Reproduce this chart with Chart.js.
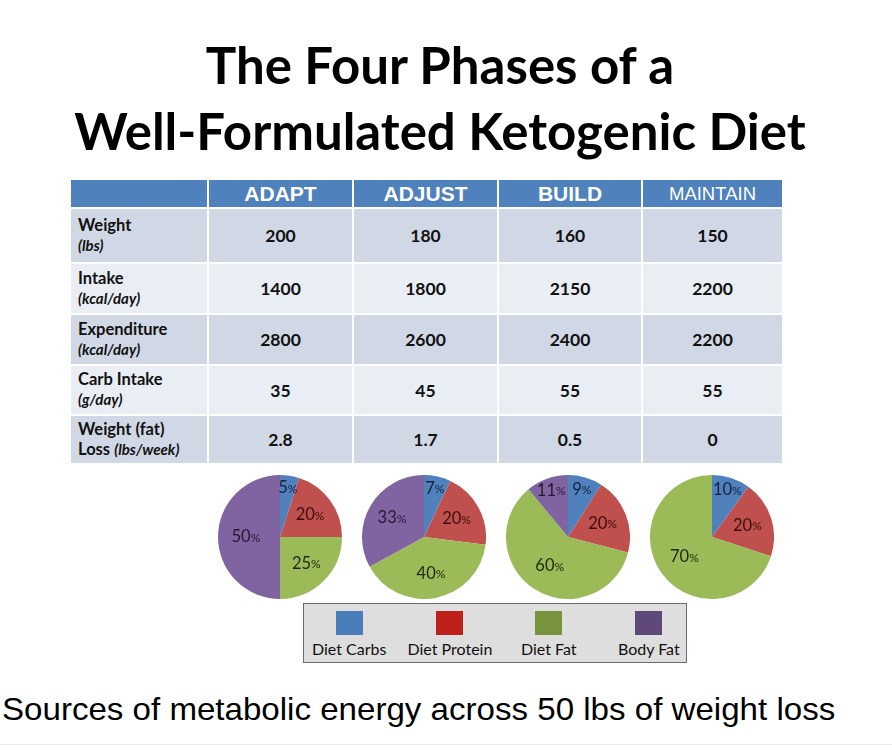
<!DOCTYPE html>
<html>
<head>
<meta charset="utf-8">
<script src="https://cdn.jsdelivr.net/npm/chart.js@4.4.0/dist/chart.umd.min.js"></script>
<style>
  html, body { margin: 0; padding: 0; background: #ffffff; }
  body { width: 892px; height: 750px; position: relative; overflow: hidden; font-family: Lato, "Open Sans", sans-serif; }
  .title { position: absolute; left: 0; width: 880px; text-align: center; font-family: Lato, sans-serif; font-weight: 700; font-size: 51px; color: #000; white-space: nowrap; line-height: 1; }
  #t1 { top: 39px; }
  #t2 { top: 105px; }
  table { position: absolute; left: 69px; top: 178px; border-collapse: collapse; table-layout: fixed; }
  td, th { border: 2px solid #ffffff; padding: 0; }
  th { background: #4F81BD; color: #fff; height: 27px; font-family: "Liberation Sans", Arial, sans-serif; font-weight: 700; font-size: 21px; }
  th.small { font-weight: 400; font-size: 18.5px; }
  td { font-family: Lato, sans-serif; color: #111; }
  td.lab { text-align: left; padding-left: 7px; font-size: 16.5px; font-weight: 700; line-height: 1.2; }
  td.lab i { font-weight: 700; font-size: 15px; }
  td.val { text-align: center; font-size: 17.5px; font-weight: 700; }
  tr.dark td { background: #D1D8E5; }
  tr.light td { background: #E9EDF4; }
  .pie { position: absolute; width: 124px; height: 124px; }
  #legend { position: absolute; left: 303px; top: 603px; width: 384px; height: 60px; background: #DEDEDE; border: 1px solid #6b6b6b; box-sizing: border-box; }
  .li { position: absolute; top: 0; text-align: center; font-family: Lato, sans-serif; font-size: 16px; color: #111; white-space: nowrap; }
  .li span.sw { display: block; width: 27px; height: 24px; margin: 7px auto 4px auto; }
  #caption { position: absolute; left: 2px; top: 694px; font-family: "Liberation Sans", Arial, sans-serif; font-size: 30.5px; color: #000; white-space: nowrap; line-height: 1; transform: scaleX(1.085); transform-origin: left center; }
  #bottomline { position: absolute; left: 0; top: 744px; width: 892px; height: 1px; background: #eeeeee; }
</style>
</head>
<body>
<div class="title" id="t1">The Four Phases of a</div>
<div class="title" id="t2">Well-Formulated Ketogenic Diet</div>
<table id="tbl"></table>
<canvas class="pie" id="p0"></canvas>
<canvas class="pie" id="p1"></canvas>
<canvas class="pie" id="p2"></canvas>
<canvas class="pie" id="p3"></canvas>
<div id="legend"></div>
<div id="caption">Sources of metabolic energy across 50 lbs of weight loss</div>
<div id="bottomline"></div>
<script>
// ---- Data ----
const phases = ["ADAPT", "ADJUST", "BUILD", "MAINTAIN"];
const rowNames = ["Weight", "Intake", "Expenditure", "Carb Intake", "Weight (fat) Loss"];
const rowUnits = ["(lbs)", "(kcal/day)", "(kcal/day)", "(g/day)", "(lbs/week)"];
const weight = ["200", "180", "160", "150"];
const intake = ["1400", "1800", "2150", "2200"];
const expenditure = ["2800", "2600", "2400", "2200"];
const carbIntake = ["35", "45", "55", "55"];
const fatLoss = ["2.8", "1.7", "0.5", "0"];
const energySources = ["Diet Carbs", "Diet Protein", "Diet Fat", "Body Fat"];
const adaptPie = [5, 20, 25, 50];
const adjustPie = [7, 20, 40, 33];
const buildPie = [9, 20, 60, 11];
const maintainPie = [10, 20, 70, 0];

// ---- Styles ----
const sliceColors = ["#4F81BD", "#C0504D", "#9BBB59", "#8064A2"];
const labelColors = ["#14223d", "#3b0e0d", "#1c2a0c", "#231832"];
const legendColors = ["#4A7EBB", "#C0201A", "#77933C", "#5F497A"];

// ---- Table ----
const rows = [weight, intake, expenditure, carbIntake, fatLoss];
const colW = [138, 145, 145, 144, 141];
const rowH = [55, 51, 51, 50, 49];
const tbl = document.getElementById('tbl');
let html = '<colgroup>' + colW.map(w => `<col style="width:${w}px">`).join('') + '</colgroup>';
html += '<tr><th></th>' + phases.map((p, i) => `<th class="${i === 3 ? 'small' : ''}">${p}</th>`).join('') + '</tr>';
rows.forEach((r, i) => {
  let lab;
  if (i === 4) lab = `Weight (fat)<br>Loss <i>${rowUnits[i]}</i>`;
  else lab = `${rowNames[i]}<br><i>${rowUnits[i]}</i>`;
  html += `<tr class="${i % 2 === 0 ? 'dark' : 'light'}" style="height:${rowH[i]}px"><td class="lab">${lab}</td>` +
    r.map(v => `<td class="val">${v}</td>`).join('') + '</tr>';
});
tbl.innerHTML = html;

// ---- Pies ----
const pieData = [adaptPie, adjustPie, buildPie, maintainPie];
const centersX = [280, 424, 568, 712];
const centerY = 537;

const labelPlugin = {
  id: 'sliceLabels',
  afterDatasetsDraw(chart) {
    const ctx = chart.ctx;
    const meta = chart.getDatasetMeta(0);
    const vals = chart.data.datasets[0].data;
    meta.data.forEach((arc, i) => {
      const v = vals[i];
      if (!v) return;
      const p = arc.getProps(['x', 'y', 'startAngle', 'endAngle', 'outerRadius'], true);
      const mid = (p.startAngle + p.endAngle) / 2;
      const frac = v < 12 ? 0.8 : (v >= 50 ? 0.55 : 0.6);
      const r = p.outerRadius * frac;
      const x = p.x + Math.cos(mid) * r;
      const y = p.y + Math.sin(mid) * r;
      const num = String(v);
      ctx.save();
      ctx.fillStyle = labelColors[i];
      ctx.textBaseline = 'middle';
      ctx.font = '16.5px Lato, sans-serif';
      const w1 = ctx.measureText(num).width;
      ctx.font = '12px Lato, sans-serif';
      const w2 = ctx.measureText('%').width;
      const sx = x - (w1 + w2) / 2;
      ctx.font = '16.5px Lato, sans-serif';
      ctx.textAlign = 'left';
      ctx.fillText(num, sx, y);
      ctx.font = '12px Lato, sans-serif';
      ctx.fillText('%', sx + w1, y + 1);
      ctx.restore();
    });
  }
};

pieData.forEach((d, k) => {
  const cv = document.getElementById('p' + k);
  cv.style.left = (centersX[k] - 62) + 'px';
  cv.style.top = (centerY - 62) + 'px';
  new Chart(cv, {
    type: 'pie',
    data: {
      labels: energySources,
      datasets: [{ data: d, backgroundColor: sliceColors, borderWidth: 0 }]
    },
    options: {
      responsive: false,
      animation: false,
      events: [],
      layout: { padding: 0 },
      plugins: { legend: { display: false }, tooltip: { enabled: false } }
    },
    plugins: [labelPlugin]
  });
});

// ---- Legend ----
const legend = document.getElementById('legend');
const legendCenters = [45, 146, 245, 345];
energySources.forEach((s, i) => {
  const el = document.createElement('div');
  el.className = 'li';
  el.innerHTML = `<span class="sw" style="background:${legendColors[i]}"></span>${s}`;
  legend.appendChild(el);
  el.style.left = (legendCenters[i] - el.offsetWidth / 2) + 'px';
});
</script>
</body>
</html>
